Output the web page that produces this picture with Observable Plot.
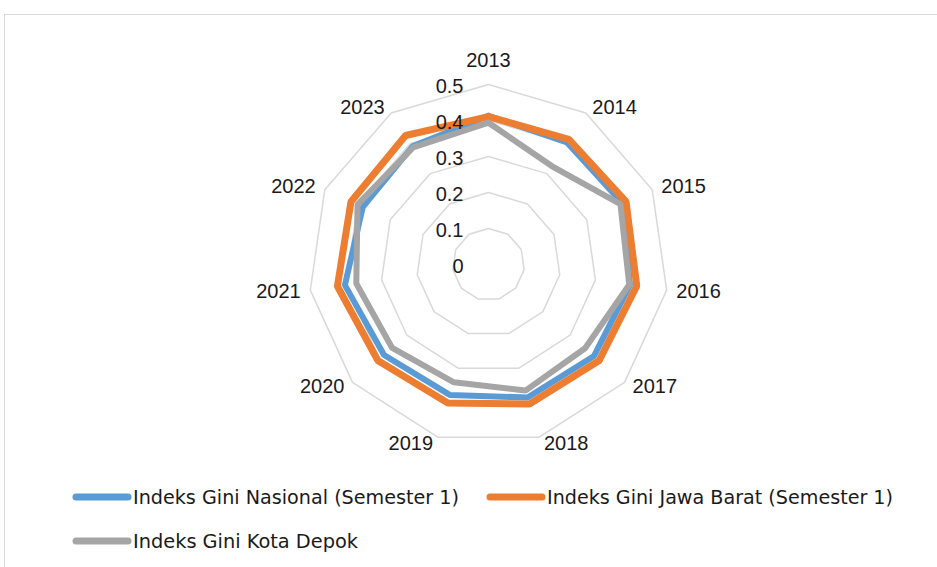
<!DOCTYPE html>
<html><head><meta charset="utf-8">
<script src="https://cdn.jsdelivr.net/npm/d3@7"></script>
<script src="https://cdn.jsdelivr.net/npm/@observablehq/plot@0.6"></script>
<style>
html,body{margin:0;padding:0;background:#fff;}
#wrap{position:relative;width:937px;height:567px;overflow:hidden;}
#frame{position:absolute;left:4px;top:14px;right:-10px;bottom:-10px;border-top:1.5px solid #d9d9d9;border-left:1.5px solid #d9d9d9;}
#chart{position:absolute;left:0;top:0;}
#legend{position:absolute;left:0;top:470px;}
</style></head><body><div id="wrap"><div id="frame"></div><div id="chart"></div><div id="legend"></div></div>
<script>
const years = ["2013","2014","2015","2016","2017","2018","2019","2020","2021","2022","2023"];
const nasional = [0.413, 0.403, 0.410, 0.397, 0.388, 0.385, 0.378, 0.384, 0.403, 0.384, 0.390];
const jabar    = [0.411, 0.413, 0.420, 0.416, 0.407, 0.404, 0.401, 0.407, 0.424, 0.420, 0.426];
const depok    = [0.394, 0.325, 0.403, 0.395, 0.355, 0.365, 0.341, 0.354, 0.371, 0.400, 0.387];
const seriesNames = ["Indeks Gini Nasional (Semester 1)", "Indeks Gini Jawa Barat (Semester 1)", "Indeks Gini Kota Depok"];
const seriesColors = ["#5B9BD5", "#ED7D31", "#A5A5A5"];
const ringTicks = [0, 0.1, 0.2, 0.3, 0.4, 0.5];

const W = 937, H = 470, CX = 488, CY = 264, PX = 360;
const n = years.length;
const ang = i => 2 * Math.PI * i / n;
const pt = (v, i) => [v * Math.sin(ang(i)), v * Math.cos(ang(i))];

const seriesValues = [nasional, jabar, depok];
const lineRows = [];
seriesValues.forEach((vals, s) => {
  for (let k = 0; k <= n; k++) { const i = k % n; const [x, y] = pt(vals[i], i); lineRows.push({series: seriesNames[s], x, y}); }
});
const ringRows = [];
ringTicks.filter(t => t > 0).forEach(t => { for (let k = 0; k <= n; k++) { const i = k % n; const [x, y] = pt(t, i); ringRows.push({t, x, y}); } });
const labelRows = years.map((yr, i) => {
  const s = Math.sin(ang(i)), c = Math.cos(ang(i));
  const r = 187 / PX;
  const top = Math.abs(s) < 0.01;
  const side = top ? 0 : Math.sign(s);
  return {yr, x: s * r + side * 25 / PX, y: c * r + (top ? 17 / PX : 0)};
});
const widths = [6, 7, 6];
const font = "'Liberation Sans', Arial, sans-serif";

const chart = Plot.plot({
  width: W, height: H, margin: 0,
  style: {fontFamily: font, fontSize: "20px", background: "transparent"},
  x: {domain: [-CX / PX, (W - CX) / PX], axis: null},
  y: {domain: [-(H - CY) / PX, CY / PX], axis: null},
  color: {domain: seriesNames, range: seriesColors},
  marks: [
    Plot.line(ringRows, {x: "x", y: "y", z: "t", stroke: "#d9d9d9", strokeWidth: 1.5}),
    ...seriesNames.map((name, s) => Plot.line(lineRows.filter(d => d.series === name), {x: "x", y: "y", stroke: "series", strokeWidth: widths[s], strokeLinejoin: "miter"})),
    Plot.text(ringTicks, {x: () => 0, y: d => d, text: d => String(d), textAnchor: "end", dx: -25, dy: 2, fontSize: 20, fill: "#1a1a1a"}),
    Plot.text(labelRows, {x: "x", y: "y", text: "yr", fontSize: 20, fill: "#1a1a1a"})
  ]
});
document.getElementById("chart").appendChild(chart);

// legend
const legendItems = [
  {name: seriesNames[0], color: seriesColors[0], x: 73, y: 27, len: 326},
  {name: seriesNames[1], color: seriesColors[1], x: 487, y: 27, len: 346},
  {name: seriesNames[2], color: seriesColors[2], x: 73, y: 71, len: 225}
];
const lsvg = d3.select("#legend").append("svg").attr("width", W).attr("height", 97);
const g = lsvg.selectAll("g").data(legendItems).join("g");
g.append("line").attr("x1", d => d.x + 3).attr("x2", d => d.x + 55).attr("y1", d => d.y).attr("y2", d => d.y)
  .attr("stroke", d => d.color).attr("stroke-width", 7).attr("stroke-linecap", "round");
g.append("text").attr("x", d => d.x + 60).attr("y", d => d.y).attr("dy", "0.35em")
  .attr("font-family", "'Liberation Sans Narrow', 'DejaVu Sans Condensed', sans-serif").attr("font-size", 19)
  .attr("fill", "#1a1a1a").attr("textLength", d => d.len).attr("lengthAdjust", "spacingAndGlyphs")
  .text(d => d.name);
</script></body></html>
